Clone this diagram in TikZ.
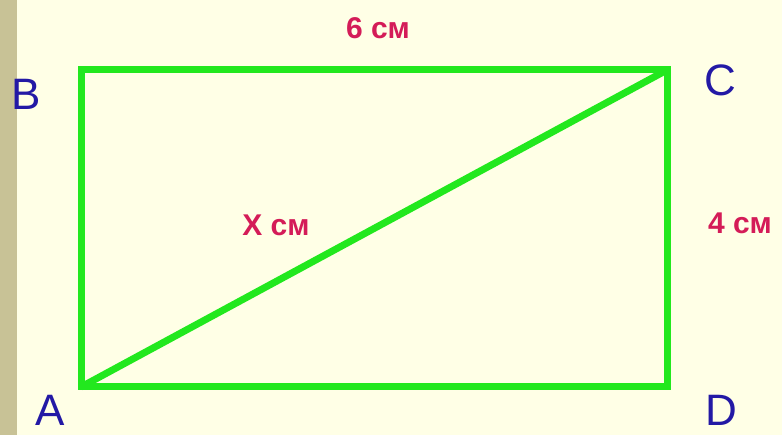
\documentclass[tikz,border=0pt]{standalone}
\usepackage{fontspec}
\setmainfont{Liberation Sans}
\definecolor{bgyellow}{RGB}{255,255,230}
\definecolor{stripkhaki}{RGB}{200,194,150}
\definecolor{sidegreen}{RGB}{34,232,30}
\definecolor{vertexblue}{RGB}{35,25,165}
\definecolor{lengthred}{RGB}{212,28,88}

\begin{document}
\begin{tikzpicture}[x=1pt, y=-1pt,
    side/.style={sidegreen, line width=7pt},
    vertex/.style={inner sep=0pt, text=vertexblue, font=\fontsize{44}{44}\selectfont},
    length/.style={inner sep=0pt, text=lengthred, font=\bfseries\fontsize{30}{30}\selectfont}]
    % Background
    \fill[bgyellow] (0,0) rectangle (782,435);
    \fill[stripkhaki] (0,0) rectangle (17,435);
    \useasboundingbox (0,0) rectangle (782,435);

    % Corners
    \coordinate (A) at (81,387);
    \coordinate (B) at (81,70);
    \coordinate (C) at (667,70);
    \coordinate (D) at (667,387);

    % Rectangle and diagonal
    \draw[side] (A) -- (B) -- (C) -- (D) -- cycle;
    \draw[side] (A) -- (C);

    % Vertex names
    \node[vertex] (nameB) at (26,94) {B};
    \node[vertex] (nameC) at (720,80) {C};
    \node[vertex] (nameA) at (50,410) {A};
    \node[vertex] (nameD) at (721,410) {D};

    % Lengths
    \node[length] (top) at (378,28) {6 см};
    \node[length] (diag) at (276,225) {Х см};
    \node[length] (right) at (740,223) {4 см};
\end{tikzpicture}
\end{document}
